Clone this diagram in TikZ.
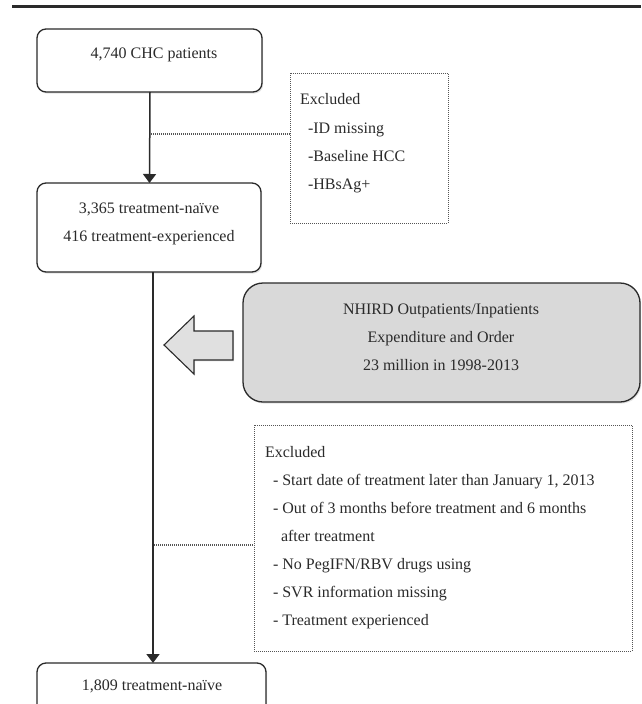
\documentclass[tikz,border=0pt]{standalone}
\usepackage{fontspec}
\setmainfont{Liberation Serif}
\usetikzlibrary{arrows.meta,shadows}
\definecolor{ink}{HTML}{2A2A2A}
\definecolor{grayfill}{HTML}{D9D9D9}
\definecolor{arrowfill}{HTML}{E0E0E0}
\begin{document}
\begin{tikzpicture}[x=1pt,y=-1pt,
  rbox/.style={draw=ink, line width=1.3pt, rounded corners=9pt, fill=white,
    drop shadow={opacity=0.22, shadow xshift=1.2pt, shadow yshift=-1.6pt},
    inner sep=0pt, outer sep=0pt},
  gbox/.style={rbox, rounded corners=20pt, fill=grayfill},
  dbox/.style={draw=ink!80, line width=1pt, dash pattern=on 1pt off 1pt,
    inner sep=0pt, outer sep=0pt},
  dotline/.style={draw=ink!80, line width=1.1pt, dash pattern=on 1pt off 1pt},
  arr/.style={draw=ink, line width=1.5pt, -{Triangle[length=9pt,width=13pt]}},
  txt/.style={inner sep=0pt, outer sep=0pt, text=ink, font=\fontsize{16}{19}\selectfont},
  ctxt/.style={txt, anchor=base},
  ltxt/.style={txt, anchor=base west}]
\useasboundingbox (0,0) rectangle (641,704);
\clip (0,0) rectangle (641,704);

% top rule
\draw[ink, line width=3pt] (12,6) -- (641,6);

% boxes
\node[rbox, minimum width=225pt, minimum height=63pt] (b1) at (149.5,60.5) {};
\node[rbox, minimum width=224pt, minimum height=89pt] (b2) at (149,227.5) {};
\node[rbox, minimum width=229pt, minimum height=60pt] (b3) at (151.5,693) {};
\node[dbox, minimum width=158pt, minimum height=150pt] (e1) at (369,148) {};
\node[dbox, minimum width=378pt, minimum height=226pt] (e2) at (443,538) {};
\node[gbox, minimum width=397pt, minimum height=119pt] (g) at (441.5,342.5) {};

% texts
\node[ctxt] (t1) at (154,58) {4,740 CHC patients};
\node[ctxt] (t2a) at (149,213) {3,365 treatment-naïve};
\node[ctxt] (t2b) at (149,241) {416 treatment-experienced};
\node[ctxt] (t3) at (152,690) {1,809 treatment-naïve};

\node[ltxt] (e1a) at (300,104) {Excluded};
\node[ltxt] (e1b) at (308,133) {-ID missing};
\node[ltxt] (e1c) at (308,161) {-Baseline HCC};
\node[ltxt] (e1d) at (308,189) {-HBsAg+};

\node[ctxt] (ga) at (441,314) {NHIRD Outpatients/Inpatients};
\node[ctxt] (gb) at (441,342) {Expenditure and Order};
\node[ctxt] (gc) at (441,370) {23 million in 1998-2013};

\node[ltxt] (e2a) at (265,457) {Excluded};
\node[ltxt] (e2b) at (273,485) {- Start date of treatment later than January 1, 2013};
\node[ltxt] (e2c) at (273,513) {- Out of 3 months before treatment and 6 months};
\node[ltxt] (e2d) at (281,541) {after treatment};
\node[ltxt] (e2e) at (273,569) {- No PegIFN/RBV drugs using};
\node[ltxt] (e2f) at (273,597) {- SVR information missing};
\node[ltxt] (e2g) at (273,625) {- Treatment experienced};

% connectors
\draw[arr] ([xshift=0.5pt]b1.south) -- ([xshift=0.5pt]b2.north);
\draw[arr] ([xshift=4pt]b2.south) -- ([xshift=4pt]b2.south |- b3.north);
\coordinate (j1) at (151,134);
\coordinate (j2) at (154,545);
\draw[dotline] (j1) -- (j1 -| e1.west);
\draw[dotline] (j2) -- (j2 -| e2.west);

% block arrow from NHIRD box
\draw[draw=ink, line width=1.1pt, fill=arrowfill, line join=miter,
  drop shadow={opacity=0.2, shadow xshift=1pt, shadow yshift=-1.4pt}]
  (164,345) -- (194,316) -- (194,331) -- (233,331) -- (233,360)
  -- (194,360) -- (194,374) -- cycle;
\end{tikzpicture}
\end{document}
